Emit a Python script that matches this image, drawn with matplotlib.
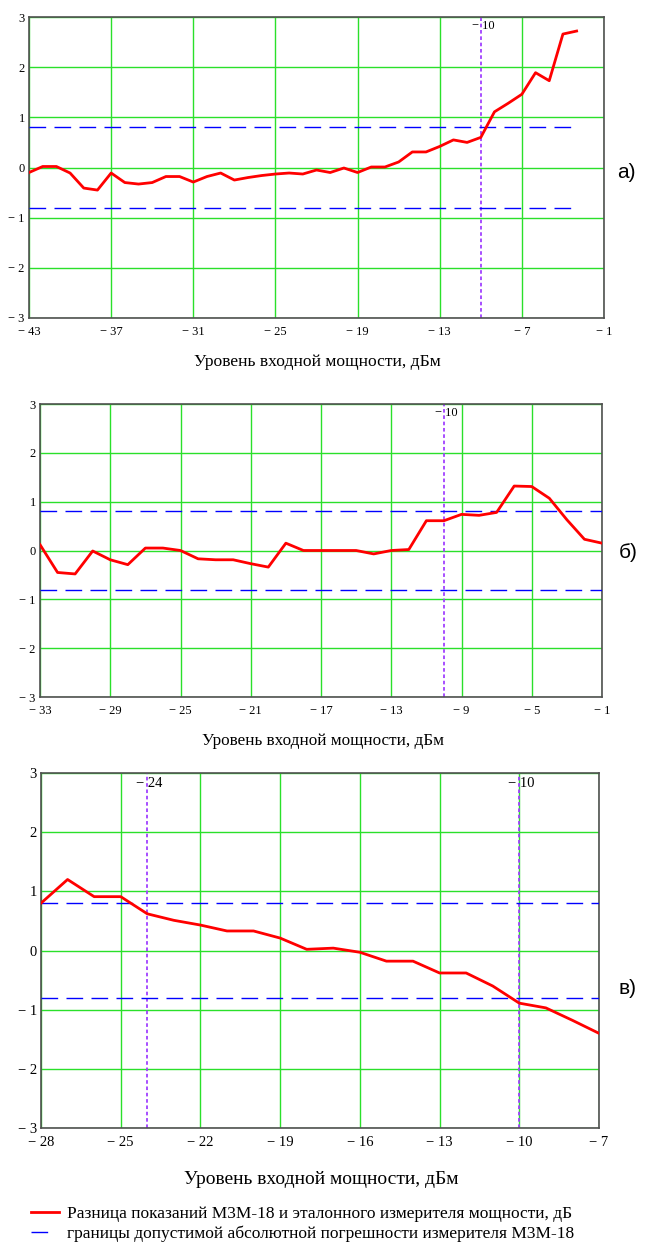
import matplotlib
matplotlib.use("Agg")
import matplotlib.pyplot as plt
from matplotlib.lines import Line2D
from matplotlib.ticker import FixedLocator, FuncFormatter

# ---- data ----
x_a = list(range(-43, -2))
y_a = [-0.10, 0.02, 0.02, -0.11, -0.41, -0.45, -0.11, -0.30, -0.33, -0.30,
       -0.18, -0.18, -0.29, -0.18, -0.11, -0.25, -0.20, -0.16, -0.13, -0.11,
       -0.13, -0.05, -0.10, -0.01, -0.10, 0.01, 0.01, 0.11, 0.31, 0.31,
       0.42, 0.55, 0.50, 0.60, 1.11, 1.28, 1.46, 1.89, 1.73, 2.66, 2.72]

x_b = list(range(-33, 0))
y_b = [0.12, -0.45, -0.48, -0.01, -0.19, -0.29, 0.05, 0.05, 0.00, -0.17,
       -0.19, -0.19, -0.27, -0.34, 0.15, 0.00, 0.00, 0.00, 0.00, -0.07,
       0.00, 0.02, 0.61, 0.61, 0.74, 0.72, 0.78, 1.32, 1.31, 1.07,
       0.63, 0.23, 0.15]

x_c = list(range(-28, -6))
y_c = [0.80, 1.20, 0.91, 0.91, 0.62, 0.51, 0.43, 0.33, 0.33, 0.21,
       0.02, 0.04, -0.03, -0.18, -0.18, -0.38, -0.38, -0.60, -0.89, -0.97,
       -1.18, -1.40]

limit = 0.8                     # допустимая погрешность, дБ
limit_x_a = [-43, -3]
limit_x_b = [-33, -1]
limit_x_c = [-28, -7]

xticks_a = [-43, -37, -31, -25, -19, -13, -7, -1]
xticks_b = [-33, -29, -25, -21, -17, -13, -9, -5, -1]
xticks_c = [-28, -25, -22, -19, -16, -13, -10, -7]
yticks = [-3, -2, -1, 0, 1, 2, 3]

marks_a = [-10]
marks_b = [-10]
marks_c = [-24, -10]

xlabel = "Уровень входной мощности, дБм"
legend_red = "Разница показаний М3М-18 и эталонного измерителя мощности, дБ"
legend_blue = "границы допустимой абсолютной погрешности измерителя М3М-18"

W, H = 646, 1242
SERIF = ["Liberation Serif", "DejaVu Serif"]
SANS = ["Liberation Sans", "DejaVu Sans"]

fig = plt.figure(figsize=(W / 100, H / 100), dpi=100, facecolor="white")


def px_box(l, t, r, b):
    return [l / W, 1 - b / H, (r - l) / W, (b - t) / H]


def fmt(v, pos=None):
    v = int(round(v))
    return "\u2212 %d" % abs(v) if v < 0 else "%d" % v


def panel(box, xs, ys, lim_x, xticks, marks, fs):
    ax = fig.add_axes(px_box(*box))
    ax.set_xlim(xticks[0], xticks[-1])
    ax.set_ylim(-3, 3)
    ax.xaxis.set_major_locator(FixedLocator(xticks))
    ax.yaxis.set_major_locator(FixedLocator(yticks))
    ax.xaxis.set_major_formatter(FuncFormatter(fmt))
    ax.yaxis.set_major_formatter(FuncFormatter(fmt))
    ax.tick_params(length=0, labelsize=fs)
    ax.tick_params(axis="x", pad=6)
    ax.tick_params(axis="y", pad=3)
    for lab in ax.get_xticklabels() + ax.get_yticklabels():
        lab.set_family(SERIF)
    ax.grid(True, color="#2ae02a", lw=1.0)
    ax.set_axisbelow(True)
    for s in ax.spines.values():
        s.set_color("#505050")
        s.set_linewidth(1.2)
    for m in marks:
        ax.axvline(m, color="#a040ff", lw=1.3, ls=(0, (2, 1.5)), zorder=2)
        ax.text(m + (xticks[-1] - xticks[0]) * 0.004, 2.82, fmt(m), ha="center", va="center",
                fontsize=fs, family=SERIF, zorder=5)
    ax.plot(lim_x, [limit, limit], color="#0000ff", lw=1.0, dashes=(12, 6), zorder=3)
    ax.plot(lim_x, [-limit, -limit], color="#0000ff", lw=1.0, dashes=(12, 6), zorder=3)
    l_red, = ax.plot(xs, ys, color="#ff0000", lw=2.0, zorder=4)
    return ax, l_red


ax_a, _ = panel((29, 17, 604, 318), x_a, y_a, limit_x_a, xticks_a, marks_a, 9)
ax_b, _ = panel((40, 404, 602, 697), x_b, y_b, limit_x_b, xticks_b, marks_b, 9)
ax_c, red = panel((41, 773, 599, 1128), x_c, y_c, limit_x_c, xticks_c, marks_c, 10.5)

# x-axis captions
fig.text(317 / W, 1 - 362 / H, xlabel, ha="center", va="center", fontsize=12.6, family=SERIF)
fig.text(323 / W, 1 - 741 / H, xlabel, ha="center", va="center", fontsize=12.3, family=SERIF)
fig.text(321 / W, 1 - 1180 / H, xlabel, ha="center", va="center", fontsize=14, family=SERIF)

# panel letters
fig.text(617 / W, 1 - 172 / H, "а)", ha="left", va="center", fontsize=15, family=SANS)
fig.text(619 / W, 1 - 553 / H, "б)", ha="left", va="center", fontsize=15, family=SANS)
fig.text(619 / W, 1 - 988 / H, "в)", ha="left", va="center", fontsize=15, family=SANS)

# legend: blue handle shows a single dash, as in the original
blue_proxy = Line2D([], [], color="#0000ff", lw=1.0, dashes=(12, 30))
fig.legend([red, blue_proxy], [legend_red, legend_blue], loc="upper left",
           bbox_to_anchor=(24 / W, 1 - 1199 / H), frameon=False,
           prop={"family": SERIF, "size": 12.5}, handlelength=1.6,
           handletextpad=0.45, labelspacing=0.2, borderaxespad=0)

plt.savefig("out.png", dpi=100, facecolor="white")
